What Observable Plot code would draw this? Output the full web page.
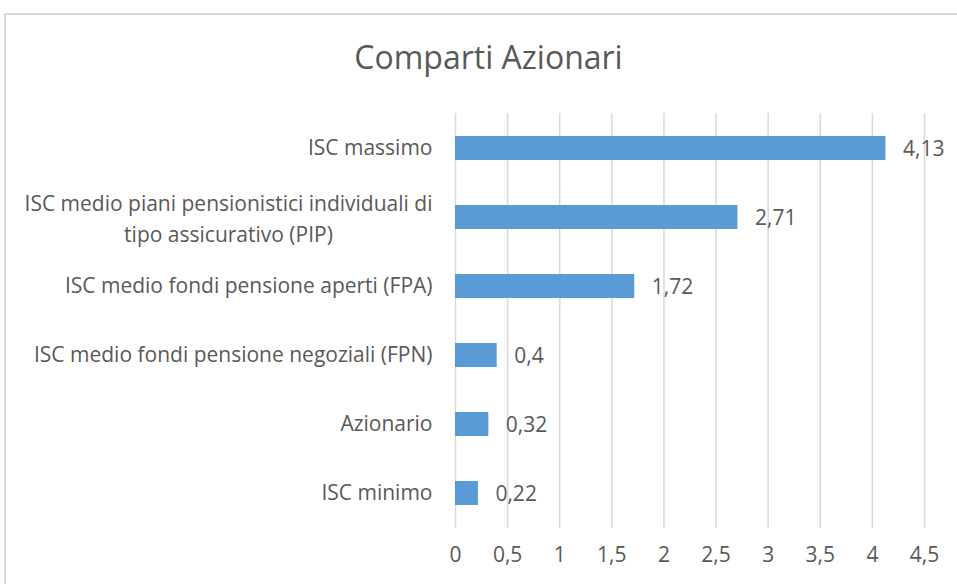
<!DOCTYPE html>
<html><head><meta charset="utf-8">
<script src="https://cdn.jsdelivr.net/npm/d3@7"></script>
<script src="https://cdn.jsdelivr.net/npm/@observablehq/plot@0.6"></script>
<style>
body{margin:0;overflow:hidden;background:#fff;}
#wrap{position:relative;width:957px;height:584px;overflow:hidden;}
#frame{position:absolute;left:4px;top:13px;width:1000px;height:1000px;border:2px solid #d9d9d9;box-sizing:border-box}
#title{position:absolute;left:10px;top:37px;width:957px;text-align:center;font-family:"Open Sans";font-weight:400;font-size:32px;color:#595959;line-height:40px}
#chart{position:absolute;left:0;top:0}
</style></head><body>
<div id="wrap"><div id="frame"></div><div id="chart"></div><div id="title"></div></div>
<script>
const title = "Comparti Azionari";
const categories = [
  "ISC massimo",
  "ISC medio piani pensionistici individuali di\ntipo assicurativo (PIP)",
  "ISC medio fondi pensione aperti (FPA)",
  "ISC medio fondi pensione negoziali (FPN)",
  "Azionario",
  "ISC minimo"
];
const values = [4.13, 2.71, 1.72, 0.4, 0.32, 0.22];
const xTicks = [0, 0.5, 1, 1.5, 2, 2.5, 3, 3.5, 4, 4.5];

document.getElementById("title").textContent = title;
const data = categories.map((c, i) => ({cat: c, value: values[i]}));
const fmt = v => String(v).replace(".", ",");
const single = data.filter(d => !d.cat.includes("\n"));
const multi = data.filter(d => d.cat.includes("\n"));
const FS = 21;

const plot = Plot.plot({
  width: 957, height: 584,
  marginLeft: 455, marginRight: 33, marginTop: 113, marginBottom: 56,
  style: {fontFamily: "Open Sans", fontSize: FS + "px", color: "#595959", background: "transparent"},
  x: {domain: [0, 4.5], label: null},
  y: {domain: categories, paddingInner: 0.654, paddingOuter: 0.327, axis: null},
  marks: [
    Plot.ruleX(xTicks, {stroke: "#d9d9d9", strokeWidth: 1.5}),
    Plot.barX(data, {x: "value", y: "cat", fill: "#5b9bd5"}),
    Plot.text(data, {x: "value", y: "cat", text: d => fmt(d.value), textAnchor: "start", dx: 17, dy: 1, fill: "#595959", fontSize: FS}),
    Plot.axisX({ticks: xTicks, tickSize: 0, tickPadding: 19, tickFormat: fmt, fontSize: FS, label: null}),
    Plot.text(single, {frameAnchor: "left", y: "cat", text: "cat", textAnchor: "end", dx: -23, fill: "#595959", fontSize: FS}),
    Plot.text(multi, {frameAnchor: "left", y: "cat", text: "cat", textAnchor: "middle", dx: -227, dy: -1, lineHeight: 1.48, fill: "#595959", fontSize: FS})
  ]
});
document.getElementById("chart").appendChild(plot);
</script>
</body></html>
